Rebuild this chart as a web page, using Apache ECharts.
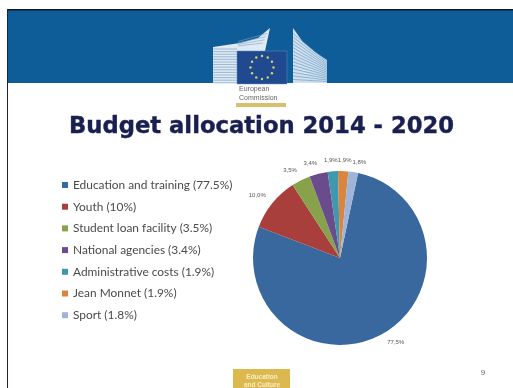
<!DOCTYPE html>
<html>
<head>
<meta charset="utf-8">
<style>html,body{margin:0;padding:0;background:#fff}#c{width:513px;height:388px}</style>
<script src="https://cdn.jsdelivr.net/npm/echarts@6/dist/echarts.min.js"></script>
</head>
<body>
<div id="c"></div>
<script>
const categories = ['Education and training', 'Youth', 'Student loan facility', 'National agencies', 'Administrative costs', 'Jean Monnet', 'Sport'];
const shares = [77.5, 10, 3.5, 3.4, 1.9, 1.9, 1.8];
const shareLabels = ['77.5%', '10%', '3.5%', '3.4%', '1.9%', '1.9%', '1.8%'];
const colours = ['#39689f', '#a93f3d', '#87a24b', '#6a4b8c', '#3f98ad', '#d9853f', '#9fb4d6'];

const chart = echarts.init(document.getElementById('c'), null, {renderer: 'canvas'});
const g = [];

// Slide frame and header band
g.push({type: 'rect', silent: true, shape: {x: 7, y: 10, width: 506, height: 73}, style: {fill: '#0e5c98'}});
g.push({type: 'rect', silent: true, shape: {x: 7, y: 9, width: 506, height: 1.5}, style: {fill: '#0c1a26'}});
g.push({type: 'rect', silent: true, shape: {x: 7, y: 9, width: 1, height: 379}, style: {fill: '#1a2630'}});

// Commission building, left wing: slats sweeping up to the tower tip
g.push({type: 'polygon', silent: true, shape: {points: [[213, 47], [240, 43], [258, 38], [270, 28], [265, 51], [237, 51], [237, 83], [213, 83]]}, style: {fill: '#dfeaf3'}});
for (let y = 49; y < 83; y += 2.6) {
  g.push({type: 'line', silent: true, shape: {x1: 213, y1: y, x2: 237, y2: y}, style: {stroke: '#7ba5c8', lineWidth: 0.7}});
}
for (let i = 0; i < 4; i++) {
  g.push({type: 'line', silent: true, shape: {x1: 238, y1: 46 - i * 1.5, x2: 263 + i * 1.5, y2: 43 - i * 3.2}, style: {stroke: '#7ba5c8', lineWidth: 0.6}});
}
// Right wing: slats fan out from the tall edge towards the low edge
g.push({type: 'polygon', silent: true, shape: {points: [[293, 28], [303, 42], [315, 52], [327, 60], [327, 83], [293, 83]]}, style: {fill: '#cfe0ee'}});
for (let i = 1; i < 15; i++) {
  const t = i / 15;
  g.push({type: 'line', silent: true, shape: {x1: 293, y1: 30 + t * 53, x2: 327, y2: 60 + t * 23}, style: {stroke: '#5f93bd', lineWidth: 0.6}});
}

// Flag with its ring of twelve stars
g.push({type: 'rect', silent: true, shape: {x: 237, y: 51, width: 50, height: 33}, style: {fill: '#21498f', stroke: '#5f8fc0', lineWidth: 0.5}});
for (let i = 0; i < 12; i++) {
  const a = i * Math.PI / 6;
  g.push({type: 'circle', silent: true, shape: {cx: 262 + 11.5 * Math.sin(a), cy: 67.5 - 11.5 * Math.cos(a), r: 1.2}, style: {fill: '#cfd66a'}});
}

// Commission wordmark and its rule
g.push({type: 'text', silent: true, style: {x: 239, y: 85, text: 'European\nCommission', font: '7px "Liberation Sans"', lineHeight: 9, fill: '#666'}});
g.push({type: 'rect', silent: true, shape: {x: 236, y: 103, width: 50, height: 4}, style: {fill: '#d8bf70'}});

// Footer badge and page number
g.push({type: 'rect', silent: true, shape: {x: 233, y: 369, width: 57, height: 19}, style: {fill: '#dcb94e'}});
g.push({type: 'text', silent: true, style: {x: 262, y: 373, text: 'Education\nand Culture', align: 'center', font: 'bold 6.5px "Liberation Sans"', lineHeight: 8, fill: '#f6edc8'}});
g.push({type: 'text', silent: true, style: {x: 483, y: 373, text: '9', align: 'center', verticalAlign: 'middle', font: '8px "Liberation Sans"', fill: '#666'}});

// Pie geometry, shared by the series and its value labels
const pieCentre = [340, 258];
const pieRadius = 87;
const labelRadius = 100;
const startAngle = 78;
// Small per-label shifts off the label circle, in slice order
const labelShiftX = [8, -5, -5, -5, -1, 1, 4];
const labelShiftY = [-4, 0, 1.5, 2, 1.6, 2, 3];

// Places a value label on a circle around the pie, at the middle of its slice
function labelAtSliceMiddle(params) {
  const i = params.dataIndex;
  const total = shares.reduce((a, b) => a + b, 0);
  const before = shares.slice(0, i).reduce((a, b) => a + b, 0);
  const turn = (before + shares[i] / 2) / total * 2 * Math.PI + (90 - startAngle) * Math.PI / 180;
  return {
    x: pieCentre[0] + labelRadius * Math.sin(turn) + labelShiftX[i],
    y: pieCentre[1] - labelRadius * Math.cos(turn) + labelShiftY[i],
    align: 'center',
    verticalAlign: 'middle'
  };
}

chart.setOption({
  animation: false,
  backgroundColor: '#fff',
  color: colours,
  title: {
    text: 'Budget allocation 2014 - 2020',
    left: 64, top: 111,
    textStyle: {fontFamily: 'DejaVu Sans', fontWeight: 'bold', fontSize: 22.7, color: '#19204f', textBorderColor: '#19204f', textBorderWidth: 0.4}
  },
  legend: {
    orient: 'vertical', left: 62, top: 178, padding: 0,
    icon: 'rect', itemWidth: 6, itemHeight: 6, itemGap: 7.7,
    textStyle: {fontFamily: 'Lato', fontSize: 11.9, color: '#4a4a4a', padding: [0, 0, 0, 0], lineHeight: 14}
  },
  graphic: g,
  series: [{
    type: 'pie',
    center: pieCentre, radius: pieRadius,
    startAngle: startAngle,
    avoidLabelOverlap: false,
    itemStyle: {borderWidth: 0},
    label: {
      position: 'outside',
      fontFamily: 'Liberation Sans', fontSize: 6, color: '#555',
      formatter: p => p.value.toFixed(1).replace('.', ',') + '%'
    },
    labelLine: {show: false},
    labelLayout: labelAtSliceMiddle,
    data: categories.map((name, i) => ({name: `${name} (${shareLabels[i]})`, value: shares[i]}))
  }]
});
</script>
</body>
</html>
